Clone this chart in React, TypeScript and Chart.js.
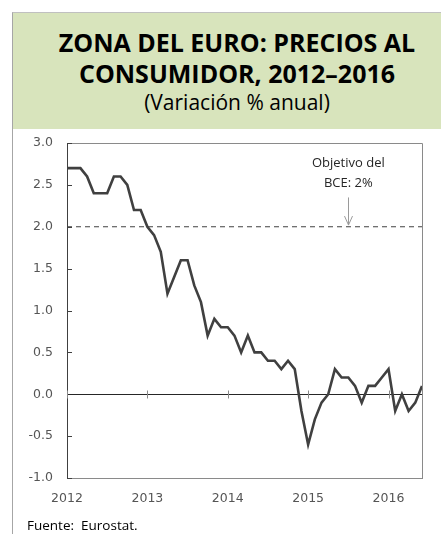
import React, { useEffect, useRef } from "react";
import { Chart, registerables } from "chart.js";
Chart.register(...registerables);

const startYear = 2012;
// Euro area HICP, annual % change, monthly Jan-2012 .. Jun-2016
const inflation = [
  2.7, 2.7, 2.7, 2.6, 2.4, 2.4, 2.4, 2.6, 2.6, 2.5, 2.2, 2.2,
  2.0, 1.9, 1.7, 1.2, 1.4, 1.6, 1.6, 1.3, 1.1, 0.7, 0.9, 0.8,
  0.8, 0.7, 0.5, 0.7, 0.5, 0.5, 0.4, 0.4, 0.3, 0.4, 0.3, -0.2,
  -0.6, -0.3, -0.1, 0.0, 0.3, 0.2, 0.2, 0.1, -0.1, 0.1, 0.1, 0.2,
  0.3, -0.2, 0.0, -0.2, -0.1, 0.1,
];
const targetValue = 2.0;
const yearTicks = [2012, 2013, 2014, 2015, 2016];
const yTickValues = [-1.0, -0.5, 0.0, 0.5, 1.0, 1.5, 2.0, 2.5, 3.0];
const annotationLines = ["Objetivo del", "BCE: 2%"];
const annotationX = 2015.5;
const annotationY = [2.76, 2.52];
const arrowFromTo = [2.35, 2.02];

const TICK_FONT = { family: "'DejaVu Sans', Verdana, sans-serif", size: 12.5 };

const framePlugin = {
  id: "framePlugin",
  beforeDatasetsDraw(chart: any) {
    const { ctx, chartArea: a, scales } = chart;
    const x = scales.x, y = scales.y;
    ctx.save();
    // top and right frame
    ctx.strokeStyle = "#8a8a8a";
    ctx.lineWidth = 1;
    ctx.beginPath();
    ctx.moveTo(a.left, a.top + 0.5);
    ctx.lineTo(a.right + 0.5, a.top + 0.5);
    ctx.lineTo(a.right + 0.5, a.bottom);
    ctx.stroke();
    // inward y ticks
    ctx.strokeStyle = "#404040";
    yTickValues.forEach((v) => {
      const py = Math.round(y.getPixelForValue(v)) + 0.5;
      ctx.beginPath();
      ctx.moveTo(a.left, py);
      ctx.lineTo(a.left + 5, py);
      ctx.stroke();
    });
    // zero line
    const y0 = Math.round(y.getPixelForValue(0)) + 0.5;
    ctx.strokeStyle = "#262626";
    ctx.beginPath();
    ctx.moveTo(a.left, y0);
    ctx.lineTo(a.right, y0);
    ctx.stroke();
    // year ticks on the zero line
    ctx.strokeStyle = "#8a8a8a";
    yearTicks.forEach((yr) => {
      const px = Math.round(x.getPixelForValue(yr)) + 0.5;
      ctx.beginPath();
      ctx.moveTo(px, y0 - 4);
      ctx.lineTo(px, y0 + 4);
      ctx.stroke();
    });
    ctx.restore();
  },
  afterDatasetsDraw(chart: any) {
    const { ctx, scales } = chart;
    const x = scales.x, y = scales.y;
    ctx.save();
    ctx.fillStyle = "#262626";
    ctx.font = "13px 'Open Sans', sans-serif";
    ctx.textAlign = "center";
    ctx.textBaseline = "middle";
    const ax = x.getPixelForValue(annotationX);
    annotationLines.forEach((t, i) => {
      ctx.fillText(t, ax, y.getPixelForValue(annotationY[i]));
    });
    const y1 = y.getPixelForValue(arrowFromTo[0]);
    const y2 = y.getPixelForValue(arrowFromTo[1]);
    const px = Math.round(ax) + 0.5;
    ctx.strokeStyle = "#9a9a9a";
    ctx.lineWidth = 1;
    ctx.beginPath();
    ctx.moveTo(px, y1);
    ctx.lineTo(px, y2);
    ctx.moveTo(px - 4, y2 - 9);
    ctx.lineTo(px, y2);
    ctx.lineTo(px + 4, y2 - 9);
    ctx.stroke();
    ctx.restore();
  },
};

function InflationChart() {
  const ref = useRef<HTMLCanvasElement | null>(null);
  useEffect(() => {
    if (!ref.current) return;
    const points = inflation.map((v, i) => ({ x: startYear + i / 12, y: v }));
    const lastX = startYear + (inflation.length - 1) / 12;
    const targetLine = [
      { x: startYear, y: targetValue },
      { x: lastX, y: targetValue },
    ];
    const chart = new Chart(ref.current, {
      type: "line",
      data: {
        datasets: [
          {
            data: targetLine,
            borderColor: "#404040",
            borderWidth: 1,
            borderDash: [5, 4],
            pointRadius: 0,
            order: 2,
          },
          {
            data: points,
            borderColor: "#404040",
            borderWidth: 2.6,
            pointRadius: 0,
            tension: 0,
            order: 1,
          },
        ],
      },
      options: {
        animation: false,
        responsive: true,
        maintainAspectRatio: false,
        layout: { autoPadding: false, padding: { top: 13, right: 19, left: 0, bottom: 0 } },
        plugins: { legend: { display: false }, tooltip: { enabled: false } },
        scales: {
          x: {
            type: "linear",
            min: startYear,
            max: lastX,
            afterBuildTicks: (s: any) => {
              s.ticks = yearTicks.map((v) => ({ value: v }));
            },
            afterFit: (s: any) => {
              s.height = 56;
              s.paddingLeft = 0;
              s.paddingRight = 0;
            },
            ticks: {
              color: "#555555",
              font: TICK_FONT,
              padding: 13,
              maxRotation: 0,
              autoSkip: false,
              callback: (v: any) => String(v),
            },
            grid: { display: false, drawTicks: false },
            border: { display: true, color: "#8a8a8a", width: 1 },
          },
          y: {
            min: -1,
            max: 3,
            afterBuildTicks: (s: any) => {
              s.ticks = yTickValues.map((v) => ({ value: v }));
            },
            afterFit: (s: any) => {
              s.width = 67;
              s.paddingTop = 0;
              s.paddingBottom = 0;
            },
            ticks: {
              color: "#555555",
              font: TICK_FONT,
              padding: 14,
              callback: (v: any) => Number(v).toFixed(1),
            },
            grid: { display: false, drawTicks: false },
            border: { display: true, color: "#404040", width: 1 },
          },
        },
      },
      plugins: [framePlugin],
    });
    return () => chart.destroy();
  }, []);
  return <canvas ref={ref} />;
}

export default function App() {
  return (
    <div
      style={{
        position: "absolute",
        left: 0,
        top: 0,
        width: 441,
        height: 534,
        background: "#ffffff",
        overflow: "hidden",
        fontFamily: "'Open Sans', sans-serif",
      }}
    >
      <div
        style={{
          position: "absolute",
          left: 12,
          top: 12,
          width: 429,
          height: 522,
          borderLeft: "1px solid #a6a6a6",
          borderTop: "1px solid #c0c0c0",
          boxSizing: "border-box",
        }}
      />
      <div
        style={{
          position: "absolute",
          left: 13,
          top: 13,
          width: 428,
          height: 116,
          background: "#d8e4bc",
        }}
      />
      <div
        style={{
          position: "absolute",
          left: 13,
          top: 27,
          width: 448,
          textAlign: "center",
          fontWeight: 700,
          fontSize: 25,
          lineHeight: "31px",
          color: "#000",
        }}
      >
        ZONA DEL EURO: PRECIOS AL
        <br />
        CONSUMIDOR, 2012–2016
      </div>
      <div
        style={{
          position: "absolute",
          left: 13,
          top: 90,
          width: 448,
          textAlign: "center",
          fontSize: 21,
          lineHeight: "24px",
          color: "#000",
        }}
      >
        (Variación % anual)
      </div>
      <div
        style={{
          position: "absolute",
          left: 0,
          top: 130,
          width: 441,
          height: 404,
        }}
      >
        <InflationChart />
      </div>
      <div
        style={{
          position: "absolute",
          left: 27,
          top: 516,
          fontSize: 13.5,
          lineHeight: "18px",
          whiteSpace: "pre",
          color: "#000",
        }}
      >
        {"Fuente:  Eurostat."}
      </div>
    </div>
  );
}
